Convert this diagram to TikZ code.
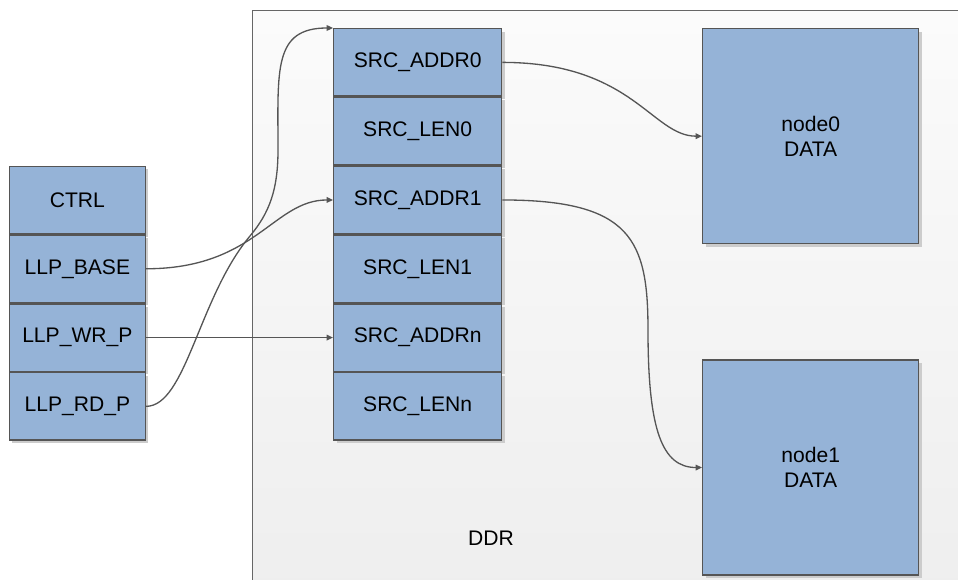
\documentclass[tikz,border=0pt]{standalone}
\usepackage{fontspec}
\setmainfont{Liberation Sans}
\usepackage{xcolor}
\usepackage{tikz}
\usetikzlibrary{positioning, arrows.meta, shadows}
\definecolor{regfill}{HTML}{95B3D7}
\definecolor{edge}{HTML}{555555}
\definecolor{ddrtop}{HTML}{FBFBFB}
\definecolor{ddrbot}{HTML}{EEEEEE}

\begin{document}
\begin{tikzpicture}[
    x=0.02cm, y=-0.02cm,
    font=\fontsize{12}{14}\selectfont,
    every node/.style={align=center},
    cell/.style={draw=edge, line width=0.8pt, fill=regfill, inner sep=0pt,
        general shadow={fill=black!20, shadow xshift=0.06cm, shadow yshift=-0.06cm}},
    reg/.style={cell, minimum width=3.36cm, minimum height=1.348cm},
    ctl/.style={cell, minimum width=2.72cm, minimum height=1.348cm},
    databox/.style={cell, minimum width=4.32cm, minimum height=4.3cm},
    ddrbox/.style={draw=edge!90, line width=0.8pt, top color=ddrtop, bottom color=ddrbot,
        minimum width=14.6cm, minimum height=11.8cm, inner sep=0pt},
    arr/.style={-{Triangle[length=3.6pt, width=3.2pt]}, draw=edge, line width=0.75pt}
]
\useasboundingbox (0,0) rectangle (958,580);

% --- DDR area ---
\node[ddrbox, anchor=north west] (ddr) at (252,10) {};
\node (ddrlbl) at (491,538) {DDR};

% --- Descriptor list ---
\node[reg, anchor=north west] (src0) at (333,28) {SRC\_ADDR0};
\node[reg, below=0pt of src0] (len0) {SRC\_LEN0};
\node[reg, below=0pt of len0] (src1) {SRC\_ADDR1};
\node[reg, below=0pt of src1] (len1) {SRC\_LEN1};
\node[reg, below=0pt of len1] (srcn) {SRC\_ADDRn};
\node[reg, below=0pt of srcn] (lenn) {SRC\_LENn};

% --- Data blocks ---
\node[databox, anchor=north west] (node0) at (702,28) {node0\\DATA};
\node[databox, below=2.3cm of node0] (node1) {node1\\DATA};

% --- Channel registers ---
\node[ctl, left=3.74cm of src1] (ctrl) {CTRL};
\node[ctl, below=0pt of ctrl] (base) {LLP\_BASE};
\node[ctl, below=0pt of base] (wrp) {LLP\_WR\_P};
\node[ctl, below=0pt of wrp] (rdp) {LLP\_RD\_P};

% --- Bend points ---
\coordinate (rdbendA) at (250,236);
\coordinate (rdbendB) at (278,150);
\coordinate (nxtbend) at (648,330);

% --- Edges ---
\draw[arr] (base.east) to[out=0, in=180, out distance=2.2cm, in distance=1.2cm] (src1.west);
\draw[arr] (wrp.east) -- (srcn.west);
\draw[arr] (rdp.east) to[out=0, in=230, out distance=0.8cm, in distance=1.6cm] (rdbendA)
    to[out=50, in=-90, out distance=0.6cm, in distance=0.8cm] (rdbendB)
    to[out=90, in=180, out distance=1.6cm, in distance=1.2cm] (src0.north west);
\draw[arr] (src0.east) to[out=0, in=180, out distance=2.6cm, in distance=1cm] (node0.west);
\draw[arr] (src1.east) to[out=0, in=90, out distance=2.58cm, in distance=1.8cm] (nxtbend)
    to[out=-90, in=180, out distance=2cm, in distance=0.8cm] (node1.west);

\end{tikzpicture}
\end{document}
